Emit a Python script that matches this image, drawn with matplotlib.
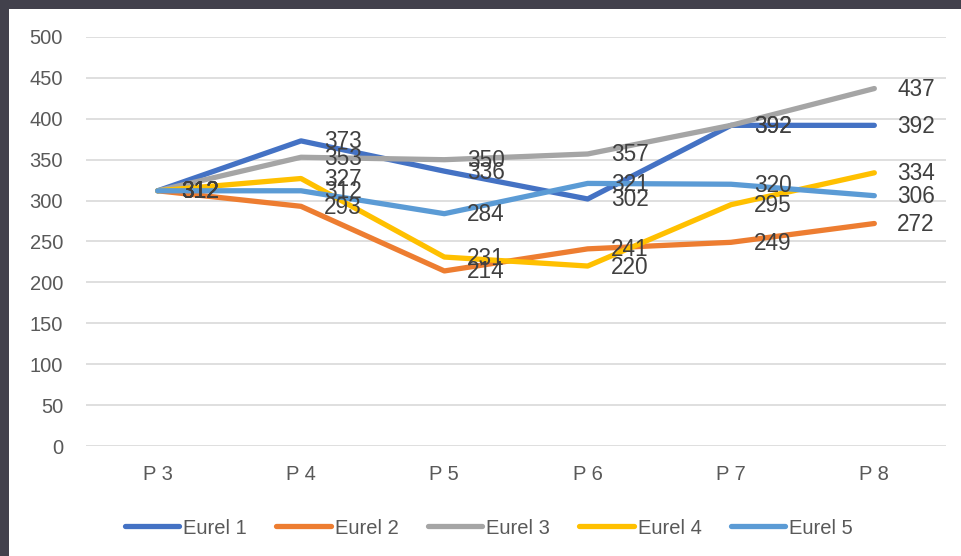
# Line chart of Eurel 1-5 over periods P 3 .. P 8, Excel-like styling
import matplotlib
matplotlib.use('Agg')
from matplotlib import pyplot as plt
from matplotlib.patches import Rectangle

plt.rcParams['font.family'] = ['Liberation Sans', 'DejaVu Sans']

# Data
periods = ['P 3', 'P 4', 'P 5', 'P 6', 'P 7', 'P 8']
series_names = ['Eurel 1', 'Eurel 2', 'Eurel 3', 'Eurel 4', 'Eurel 5']
eurel1 = [312, 373, 336, 302, 392, 392]
eurel2 = [312, 293, 214, 241, 249, 272]
eurel3 = [312, 353, 350, 357, 392, 437]
eurel4 = [312, 327, 231, 220, 295, 334]
eurel5 = [312, 312, 284, 321, 320, 306]
y_ticks = [0, 50, 100, 150, 200, 250, 300, 350, 400, 450, 500]

all_series = [eurel1, eurel2, eurel3, eurel4, eurel5]
colors = ['#4472C4', '#ED7D31', '#A5A5A5', '#FFC000', '#5B9BD5']

W, H = 962, 556
fig = plt.figure(figsize=(W / 100, H / 100), dpi=100)
fig.patch.set_facecolor('white')

# dark frame at top and left (screenshot border)
fig.patches.append(Rectangle((0, 1 - 9 / H), 1, 9 / H, transform=fig.transFigure,
                             facecolor='#42414c', edgecolor='none', zorder=10))
fig.patches.append(Rectangle((0, 0), 9 / W, 1, transform=fig.transFigure,
                             facecolor='#42414c', edgecolor='none', zorder=10))

ax = fig.add_axes([86 / W, (H - 446) / H, 860 / W, 409 / H])
x = list(range(len(periods)))

for name, vals, col in zip(series_names, all_series, colors):
    ax.plot(x, vals, color=col, linewidth=3.8, solid_capstyle='round',
            solid_joinstyle='round', label=name, zorder=3)

# data labels, right of each point
for vals in all_series:
    for xi, v in zip(x, vals):
        ax.annotate(str(v), (xi, v), xytext=(23, -1), textcoords='offset pixels',
                    ha='left', va='center', fontsize=16.3, color='#404040', zorder=5)

ax.set_xlim(-0.5, 5.5)
ax.set_ylim(0, 500)
ax.set_yticks(y_ticks)
ax.set_xticks(x)
ax.set_xticklabels(periods)
ax.grid(axis='y', color='#d9d9d9', linewidth=1.2)
ax.set_axisbelow(True)
for s in ax.spines.values():
    s.set_visible(False)
ax.tick_params(axis='y', length=0, pad=16.5, labelsize=14.5, labelcolor='#595959')
ax.tick_params(axis='x', length=0, pad=14, labelsize=14.5, labelcolor='#595959')

fig.legend(loc='center', bbox_to_anchor=(489 / W, 28 / H), ncol=5, frameon=False,
           fontsize=14.5, handlelength=2.7, handletextpad=0.2, columnspacing=1.45,
           labelcolor='#595959')

plt.savefig('out.png', dpi=100)
